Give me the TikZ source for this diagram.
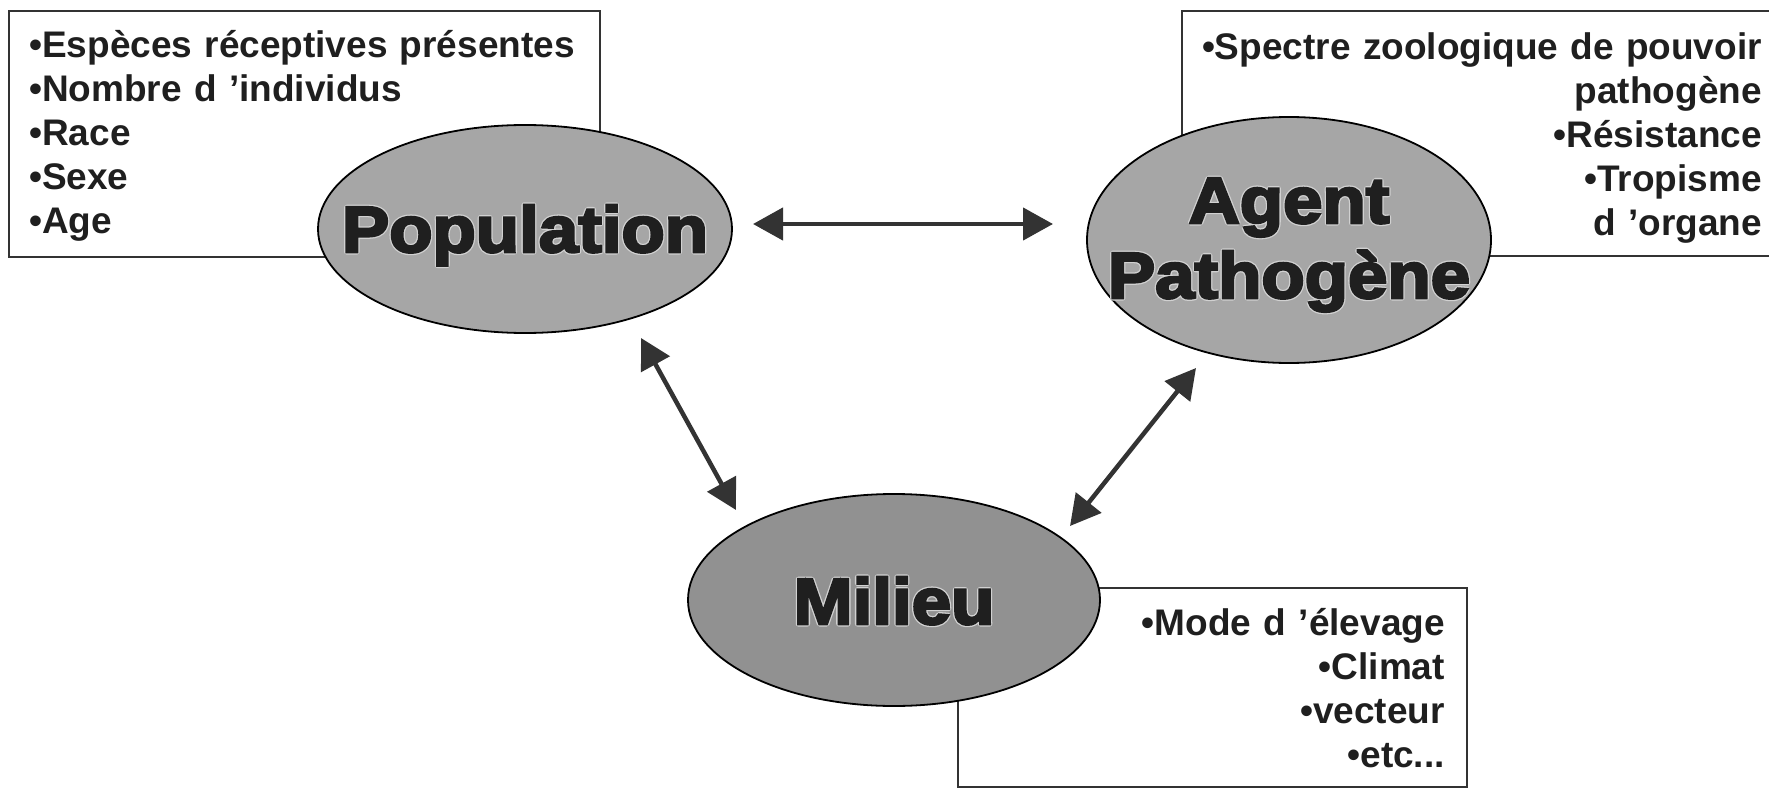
\documentclass[tikz,border=0pt]{standalone}
\usepackage{fontspec}
\setmainfont{Liberation Sans}
\newfontfamily\labelfont[FakeStretch=1.09,FakeBold=4]{Liberation Sans Bold}
\newfontfamily\halofont[FakeStretch=1.09,FakeBold=8]{Liberation Sans Bold}
\usetikzlibrary{arrows.meta,shapes.geometric}

\definecolor{inkdark}{gray}{0.12}
\definecolor{halogray}{gray}{0.82}
\definecolor{arrowgray}{gray}{0.2}
\definecolor{lightmid}{gray}{0.65}
\definecolor{lightrim}{gray}{0.52}
\definecolor{darkmid}{gray}{0.57}
\definecolor{darkrim}{gray}{0.44}
\pgfdeclareradialshading{lightblob}{\pgfpoint{0bp}{0bp}}{color(0bp)=(lightmid); color(28bp)=(lightmid); color(50bp)=(lightrim); color(60bp)=(lightrim)}
\pgfdeclareradialshading{darkblob}{\pgfpoint{0bp}{0bp}}{color(0bp)=(darkmid); color(28bp)=(darkmid); color(50bp)=(darkrim); color(60bp)=(darkrim)}

\begin{document}
\begin{tikzpicture}[x=1pt,y=-1pt,
  frame/.style={draw=black!80, line width=1.2pt},
  listtext/.style={font=\fontsize{37}{44}\selectfont\bfseries, text=inkdark, inner sep=0pt, text width=590pt},
  blob/.style={ellipse, draw=black, line width=1.8pt, inner sep=0pt, shading=lightblob},
  blobtext/.style={font=\labelfont\fontsize{65}{75}\selectfont, text=inkdark, align=center, inner sep=0pt, text width=440pt, anchor=base},
  blobhalo/.style={blobtext, font=\halofont\fontsize{65}{75}\selectfont, text=halogray, line join=round},
  link/.style={draw=arrowgray, line width=4.5pt, {Triangle[length=30pt,width=32pt]}-{Triangle[length=30pt,width=32pt]}}
]
\useasboundingbox (0,0) rectangle (1769,789);

% frames of the three lists (drawn first, the ellipses cover them)
\draw[frame] (9,11) rectangle (600,257);
\draw[frame] (1769,11) -| (1182,256) -- (1769,256);
\draw[frame] (958,787) rectangle (1467,588);

% lists
\node[listtext, align=left, anchor=base west] (poplist) at (29,58)
  {•Espèces réceptives présentes\\•Nombre d ’individus\\•Race\\•Sexe\\•Age};
\node[listtext, align=right, anchor=base east] (agentlist) at (1762,60)
  {•Spectre zoologique de pouvoir\\pathogène\\•Résistance\\•Tropisme\\d ’organe};
\node[listtext, align=right, anchor=base east] (milieulist) at (1445,635)
  {•Mode d ’élevage\\•Climat\\•vecteur\\•etc...};

% the three factors
\node[blob, minimum width=414pt, minimum height=208pt] (pop) at (525,229) {};
\node[blob, minimum width=404pt, minimum height=246pt] (agent) at (1289,240) {};
\node[blob, shading=darkblob, minimum width=412pt, minimum height=212pt] (milieu) at (894,600) {};

% outlined titles: a light rim under the dark lettering
\node[blobhalo] (pophalo) at ([yshift=-23pt]pop.center) {Population};
\node[blobtext] (poplabel) at ([yshift=-23pt]pop.center) {Population};
\node[blobhalo] (agenthalo) at ([yshift=17pt]agent.center) {Agent\\Pathogène};
\node[blobtext] (agentlabel) at ([yshift=17pt]agent.center) {Agent\\Pathogène};
\node[blobhalo] (milieuhalo) at ([yshift=-24pt]milieu.center) {Milieu};
\node[blobtext] (milieulabel) at ([yshift=-24pt]milieu.center) {Milieu};

% interactions
\coordinate (popE) at (753,224);
\coordinate (agentW) at (1053,224);
\coordinate (popS) at (641,338);
\coordinate (milieuNW) at (736,510);
\coordinate (agentS) at (1196,368);
\coordinate (milieuNE) at (1070,526);

\draw[link] (popE) -- (agentW);
\draw[link] (popS) -- (milieuNW);
\draw[link] (agentS) -- (milieuNE);
\end{tikzpicture}
\end{document}
